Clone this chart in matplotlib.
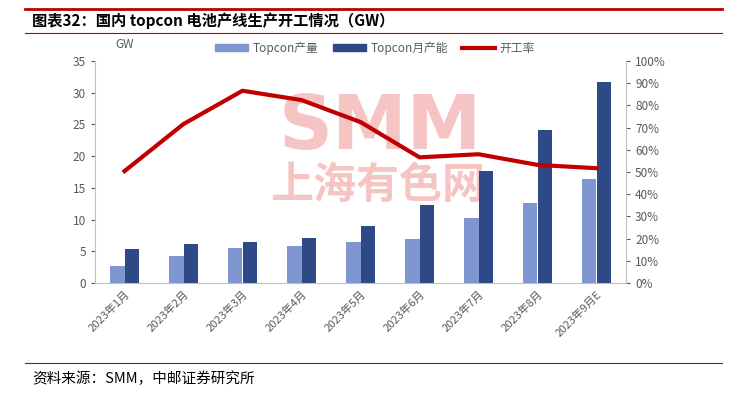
import numpy as np
import matplotlib.pyplot as plt
from matplotlib.lines import Line2D

plt.rcParams['font.family'] = ['Noto Sans CJK SC', 'DejaVu Sans']

# 数据
months = ['2023年1月', '2023年2月', '2023年3月', '2023年4月', '2023年5月',
          '2023年6月', '2023年7月', '2023年8月', '2023年9月E']
output = [2.7, 4.25, 5.5, 5.8, 6.5, 6.9, 10.25, 12.65, 16.45]
capacity = [5.35, 6.1, 6.4, 7.05, 9.0, 12.35, 17.65, 24.1, 31.75]
rate = [50.4, 71.6, 86.6, 82.4, 72.5, 56.6, 58.0, 53.2, 51.7]

c_light = '#7F96D0'
c_dark = '#2D4A86'
c_red = '#C00000'
c_tick = '#595959'

fig = plt.figure(figsize=(7.36, 3.94), dpi=100)

# 水印（在图表下面）
fig.text(380/736, 1 - 128/394, 'SMM', fontsize=54, fontweight='bold', color='#F7C4C4',
         ha='center', va='center', zorder=-5, family='DejaVu Sans')
fig.text(378/736, 1 - 185/394, '上海有色网', fontsize=31, fontweight='bold', color='#F7C4C4',
         ha='center', va='center', zorder=-5)

ax = fig.add_axes([95/736, 1 - 283/394, 531/736, 222/394])
ax2 = ax.twinx()

x = np.arange(len(months))
w = 0.24
ax.bar(x - w/2, output, w, color=c_light, label='Topcon产量', zorder=2)
ax.bar(x + w/2, capacity, w, color=c_dark, label='Topcon月产能', zorder=2)
ax2.plot(x, rate, color=c_red, lw=3, label='开工率', zorder=3)

ax.set_xlim(-0.5, len(months) - 0.5)
ax.set_ylim(0, 35)
ax.set_yticks(range(0, 36, 5))
ax2.set_ylim(0, 100)
ax2.set_yticks(range(0, 101, 10))
ax2.set_yticklabels([f'{v}%' for v in range(0, 101, 10)])

ax.set_xticks(x)
ax.set_xticklabels(months, rotation=45, ha='right', rotation_mode='anchor')

for a in (ax, ax2):
    a.spines['top'].set_visible(False)
    a.tick_params(colors=c_tick, labelsize=8.5, length=3, width=0.8)
    for s in a.spines.values():
        s.set_color('#BFBFBF')
ax.spines['right'].set_visible(False)
ax2.spines['left'].set_visible(False)
ax2.spines['bottom'].set_visible(False)
ax.tick_params(axis='x', length=0, pad=4, labelsize=8)
ax.tick_params(axis='y', direction='out')
ax2.tick_params(axis='y', direction='out')
ax.patch.set_visible(False)
ax2.patch.set_visible(False)

fig.text(125/736, 1 - 45/394, 'GW', fontsize=8.5, color=c_tick, ha='center', va='center')

handles = [plt.Rectangle((0, 0), 1, 1, color=c_light),
           plt.Rectangle((0, 0), 1, 1, color=c_dark),
           Line2D([0], [0], color=c_red, lw=3)]
fig.legend(handles, ['Topcon产量', 'Topcon月产能', '开工率'], loc='center',
           bbox_to_anchor=(375/736, 1 - 48/394), ncol=3, frameon=False,
           fontsize=8.5, labelcolor=c_tick, handlelength=2.8, handleheight=0.5,
           columnspacing=1.2, handletextpad=0.4)

# 标题与页脚
fig.add_artist(Line2D([25/736, 722/736], [1 - 9/394] * 2, color='#C00000', lw=2))
fig.add_artist(Line2D([25/736, 722/736], [1 - 33/394] * 2, color='#C00000', lw=0.8))
fig.text(32/736, 1 - 21/394, '图表32：国内 topcon 电池产线生产开工情况（GW）',
         fontsize=11, fontweight='bold', color='black', va='center')
fig.add_artist(Line2D([25/736, 722/736], [1 - 363/394] * 2, color='#C00000', lw=0.8))
fig.text(32/736, 1 - 379/394, '资料来源：SMM，中邮证券研究所', fontsize=10.5,
         color='black', va='center')

fig.savefig('out.png', dpi=100)
